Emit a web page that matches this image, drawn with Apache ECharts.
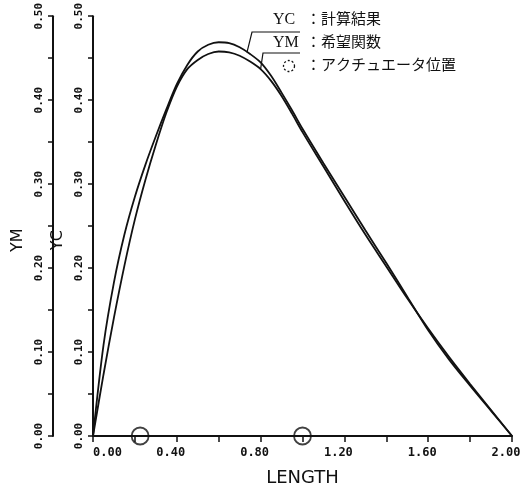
<!DOCTYPE html>
<html>
<head>
<meta charset="utf-8">
<script src="https://cdn.jsdelivr.net/npm/echarts@6/dist/echarts.min.js"></script>
<style>
  html, body { margin: 0; padding: 0; background: #fff; }
  #chart { width: 532px; height: 492px; }
</style>
</head>
<body>
<div id="chart"></div>
<script>
// positions along the beam (LENGTH)
const lengthPts = [0, 0.05, 0.1, 0.15, 0.2, 0.25, 0.3, 0.35, 0.4, 0.45, 0.5, 0.55, 0.6, 0.65, 0.7, 0.75,
  0.8, 0.85, 0.9, 0.95, 1.0, 1.1, 1.2, 1.3, 1.4, 1.5, 1.6, 1.7, 1.8, 1.9, 2.0];
// YC : 計算結果
const ycValues = [0, 0.108, 0.183, 0.240, 0.285, 0.323, 0.357, 0.389, 0.419, 0.442, 0.458, 0.466, 0.469, 0.468,
  0.463, 0.455, 0.445, 0.429, 0.409, 0.388, 0.366, 0.325, 0.285, 0.245, 0.206, 0.166, 0.126, 0.091, 0.060, 0.030, 0];
// YM : 希望関数
const ymValues = [0, 0.073, 0.141, 0.203, 0.258, 0.305, 0.347, 0.385, 0.416, 0.437, 0.448, 0.455, 0.458, 0.457,
  0.453, 0.446, 0.437, 0.423, 0.405, 0.384, 0.362, 0.321, 0.280, 0.240, 0.202, 0.164, 0.128, 0.094, 0.062, 0.031, 0];
// アクチュエータ位置
const actuatorPos = [0.225, 1.0];
// where the legend leader lines touch the curves
const leaderYC = [0.735, 0.457];
const leaderYM = [0.80, 0.437];

const pair = (xs, ys) => xs.map((x, i) => [x, ys[i]]);

const monoFont = 'DejaVu Sans Mono';
const ink = '#111';

const yAxisBase = (name, offset) => ({
  type: 'value',
  position: 'left',
  offset,
  min: 0,
  max: 0.5,
  interval: 0.05,
  name,
  nameLocation: 'middle',
  nameRotate: 90,
  nameGap: 26,
  nameTextStyle: { fontFamily: 'DejaVu Sans', fontSize: 16, color: ink, padding: [0, 28, 0, 0] },
  axisLine: { show: true, lineStyle: { color: ink, width: 2 } },
  axisTick: { show: true, length: 5, lineStyle: { color: ink, width: 1.5 } },
  axisLabel: {
    rotate: 90,
    margin: 8,
    fontFamily: monoFont,
    fontWeight: 'bold',
    fontSize: 11,
    color: ink,
    formatter: (v) => (Math.round(v * 100) % 10 === 0 ? v.toFixed(2) : ''),
  },
  splitLine: { show: false },
});

const chart = echarts.init(document.getElementById('chart'));
chart.setOption({
  animation: false,
  backgroundColor: '#fff',
  grid: { left: 93, right: 20, top: 15, bottom: 51, containLabel: false },
  xAxis: {
    type: 'value',
    min: 0,
    max: 2,
    interval: 0.2,
    name: 'LENGTH',
    nameLocation: 'middle',
    nameGap: 33,
    nameTextStyle: { fontFamily: 'DejaVu Sans', fontSize: 18, color: ink },
    axisLine: { lineStyle: { color: ink, width: 2 } },
    axisTick: { length: 6, lineStyle: { color: ink, width: 1.5 } },
    axisLabel: {
      margin: 11,
      fontFamily: monoFont,
      fontWeight: 'bold',
      fontSize: 12,
      color: ink,
      padding: [0, 12, 0, 0],
      alignMinLabel: 'left',
      formatter: (v) => (Math.round(v * 10) % 4 === 0 ? v.toFixed(2) : ''),
    },
    splitLine: { show: false },
  },
  yAxis: [yAxisBase('YC', 0), yAxisBase('YM', 40)],
  series: [
    {
      name: 'YC',
      type: 'line',
      data: pair(lengthPts, ycValues),
      smooth: 0.3,
      showSymbol: false,
      clip: false,
      lineStyle: { color: ink, width: 1.8 },
    },
    {
      name: 'YM',
      type: 'line',
      yAxisIndex: 1,
      data: pair(lengthPts, ymValues),
      smooth: 0.3,
      showSymbol: false,
      clip: false,
      lineStyle: { color: ink, width: 1.8 },
    },
    {
      name: 'actuator',
      type: 'scatter',
      data: actuatorPos.map((x) => [x, 0]),
      symbol: 'circle',
      symbolSize: 17,
      clip: false,
      itemStyle: { color: 'rgba(0,0,0,0)', borderColor: ink, borderWidth: 1.8 },
    },
  ],
});

// legend annotation with leader lines
const pYC = chart.convertToPixel({ xAxisIndex: 0, yAxisIndex: 0 }, leaderYC);
const pYM = chart.convertToPixel({ xAxisIndex: 0, yAxisIndex: 1 }, leaderYM);
const serif = 'Liberation Serif';
const cjk = '"Noto Sans CJK JP"';
const lineStyle = { stroke: ink, lineWidth: 1.2 };

chart.setOption({
  graphic: [
    { type: 'text', left: 273, top: 12, style: { text: 'YC', font: `16px ${serif}`, fill: ink } },
    { type: 'text', left: 306, top: 11, style: { text: '：計算結果', font: `15px ${cjk}`, fill: ink } },
    { type: 'text', left: 273, top: 35, style: { text: 'YM', font: `16px ${serif}`, fill: ink } },
    { type: 'text', left: 306, top: 34, style: { text: '：希望関数', font: `15px ${cjk}`, fill: ink } },
    { type: 'circle', shape: { cx: 289, cy: 66, r: 5.5 }, style: { fill: 'none', stroke: ink, lineWidth: 1.3, lineDash: [2, 2] } },
    { type: 'text', left: 306, top: 57, style: { text: '：アクチュエータ位置', font: `15px ${cjk}`, fill: ink } },
    { type: 'polyline', shape: { points: [[300, 32], [252, 32], pYC] }, style: lineStyle },
    { type: 'polyline', shape: { points: [[300, 53], [263, 53], pYM] }, style: lineStyle },
  ],
});
</script>
</body>
</html>
